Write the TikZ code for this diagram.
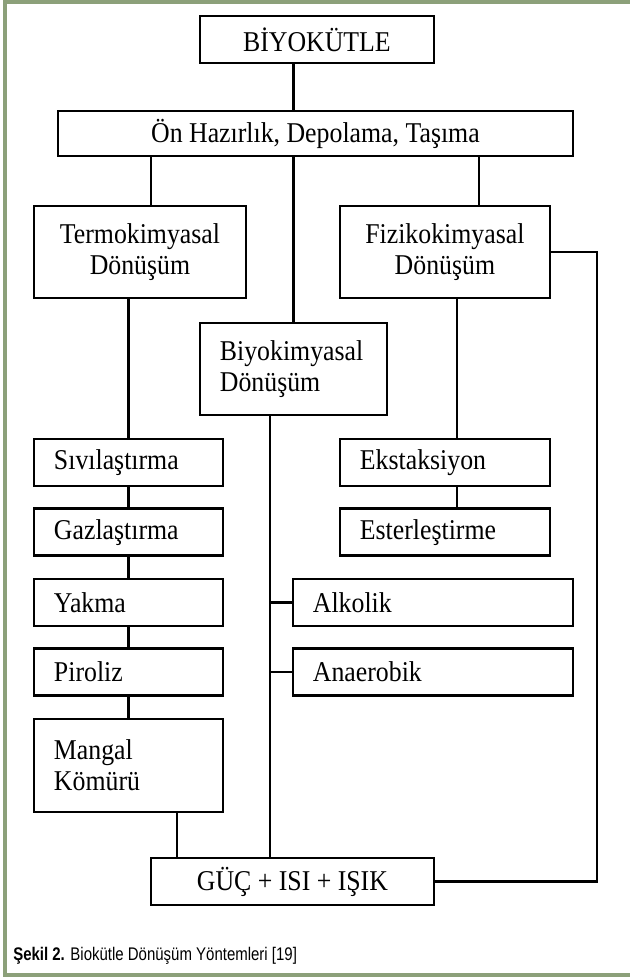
\documentclass[tikz,border=0pt]{standalone}
\usepackage{fontspec}
\setmainfont{Liberation Serif}[FakeStretch=0.9]
\newfontfamily\capsans{Liberation Sans}[FakeStretch=0.82]
\usepackage{xcolor}
\usepackage{tikz}
\usetikzlibrary{positioning, calc}
\definecolor{framegreen}{RGB}{140,160,122}

\begin{document}
\begin{tikzpicture}[
  box/.style={rectangle, draw, line width=1.8pt, minimum height=1.175cm,
              inner xsep=0.5cm, font=\fontsize{20.4}{22}\selectfont},
  cbox/.style={box, align=center},
  lbox/.style={box, align=left},
  link/.style={line width=1.8pt}
]

%% ── Frame ───────────────────────────────────────────────────────────────
\fill[white] (0,0) rectangle (15.75,-24.425);
\draw[framegreen, line width=2.6pt] (15.75,-0.04) -| (0.125,-24.375) -- (15.75,-24.375);

%% ── Top ─────────────────────────────────────────────────────────────────
\node[cbox, minimum width=5.85cm] (bio) at (7.925, -0.9875) {BİYOKÜTLE};
\node[cbox, minimum width=12.875cm, minimum height=1.125cm] (pre) at (7.8875, -3.3375)
  {Ön Hazırlık, Depolama, Taşıma};

%% ── Conversion routes ───────────────────────────────────────────────────
\node[cbox, minimum width=5.3cm, minimum height=2.3cm] (termo) at (3.5, -6.3)
  {Termokimyasal\\Dönüşüm};
\node[cbox, minimum width=5.25cm, minimum height=2.3cm] (fiziko) at (11.125, -6.3)
  {Fizikokimyasal\\Dönüşüm};
\node[lbox, text width=3.675cm, minimum height=2.3cm] (biyo) at (7.3375, -9.225)
  {Biyokimyasal\\Dönüşüm};

%% ── Termokimyasal ───────────────────────────────────────────────────────
\node[lbox, text width=3.725cm] (sivi)    at (3.2125, -11.5625) {Sıvılaştırma};
\node[lbox, text width=3.725cm] (gaz)     at (3.2125, -13.3)    {Gazlaştırma};
\node[lbox, text width=3.725cm] (yakma)   at (3.2125, -15.0625) {Yakma};
\node[lbox, text width=3.725cm] (piroliz) at (3.2125, -16.8)    {Piroliz};
\node[lbox, text width=3.725cm, minimum height=2.325cm] (mangal) at (3.2125, -19.1375)
  {Mangal\\Kömürü\\[-0.25cm]};

%% ── Fizikokimyasal / Biyokimyasal ───────────────────────────────────────
\node[lbox, text width=4.25cm] (ekst)  at (11.125, -11.5625) {Ekstaksiyon};
\node[lbox, text width=4.25cm] (ester) at (11.125, -13.3)    {Esterleştirme};
\node[lbox, text width=6.0cm] (alkolik) at (10.825, -15.0625) {Alkolik};
\node[lbox, text width=6.0cm] (anaer)   at (10.825, -16.8)    {Anaerobik};

%% ── Output ──────────────────────────────────────────────────────────────
\node[cbox, minimum width=7.075cm] (guc) at (7.3125, -22.0375) {GÜÇ + ISI + IŞIK};

\node[anchor=base west, inner sep=0pt, font=\capsans\fontsize{13}{15}\selectfont] (caption)
  at (0.325, -24.0) {\textbf{Şekil 2.} Biokütle Dönüşüm Yöntemleri [19]};

%% ── Connectors ──────────────────────────────────────────────────────────
\draw[link] (biyo.north |- bio.south) -- (biyo.north |- pre.north);
\draw[link] (pre.south -| biyo.north) -- (biyo.north);
\draw[link] ($(termo.north)+(0.275,0)$) -- ($(termo.north |- pre.south)+(0.275,0)$);
\draw[link] ($(fiziko.north)+(0.85,0)$) -- ($(fiziko.north |- pre.south)+(0.85,0)$);

\draw[link] (termo.south -| sivi.north) -- (sivi.north);
\foreach \a/\b in {sivi/gaz, gaz/yakma, yakma/piroliz, piroliz/mangal}
  \draw[link] (\a.south) -- (\b.north);

\draw[link] ($(fiziko.south)+(0.3,0)$) -- ($(ekst.north)+(0.3,0)$);
\draw[link] ($(ekst.south)+(0.3,0)$) -- ($(ester.north)+(0.3,0)$);

\coordinate (bline) at ($(biyo.south)+(-0.5875,0)$);
\draw[link] (bline) -- (bline |- guc.north);
\draw[link] (bline |- alkolik.west) -- (alkolik.west);
\draw[link] (bline |- anaer.west) -- (anaer.west);

\draw[link] ($(mangal.south)+(1.2125,0)$) -- ($(mangal.south |- guc.north)+(1.2125,0)$);
\draw[link] (fiziko.east) -- ++(1.15,0) |- (guc.east);

\end{tikzpicture}
\end{document}
